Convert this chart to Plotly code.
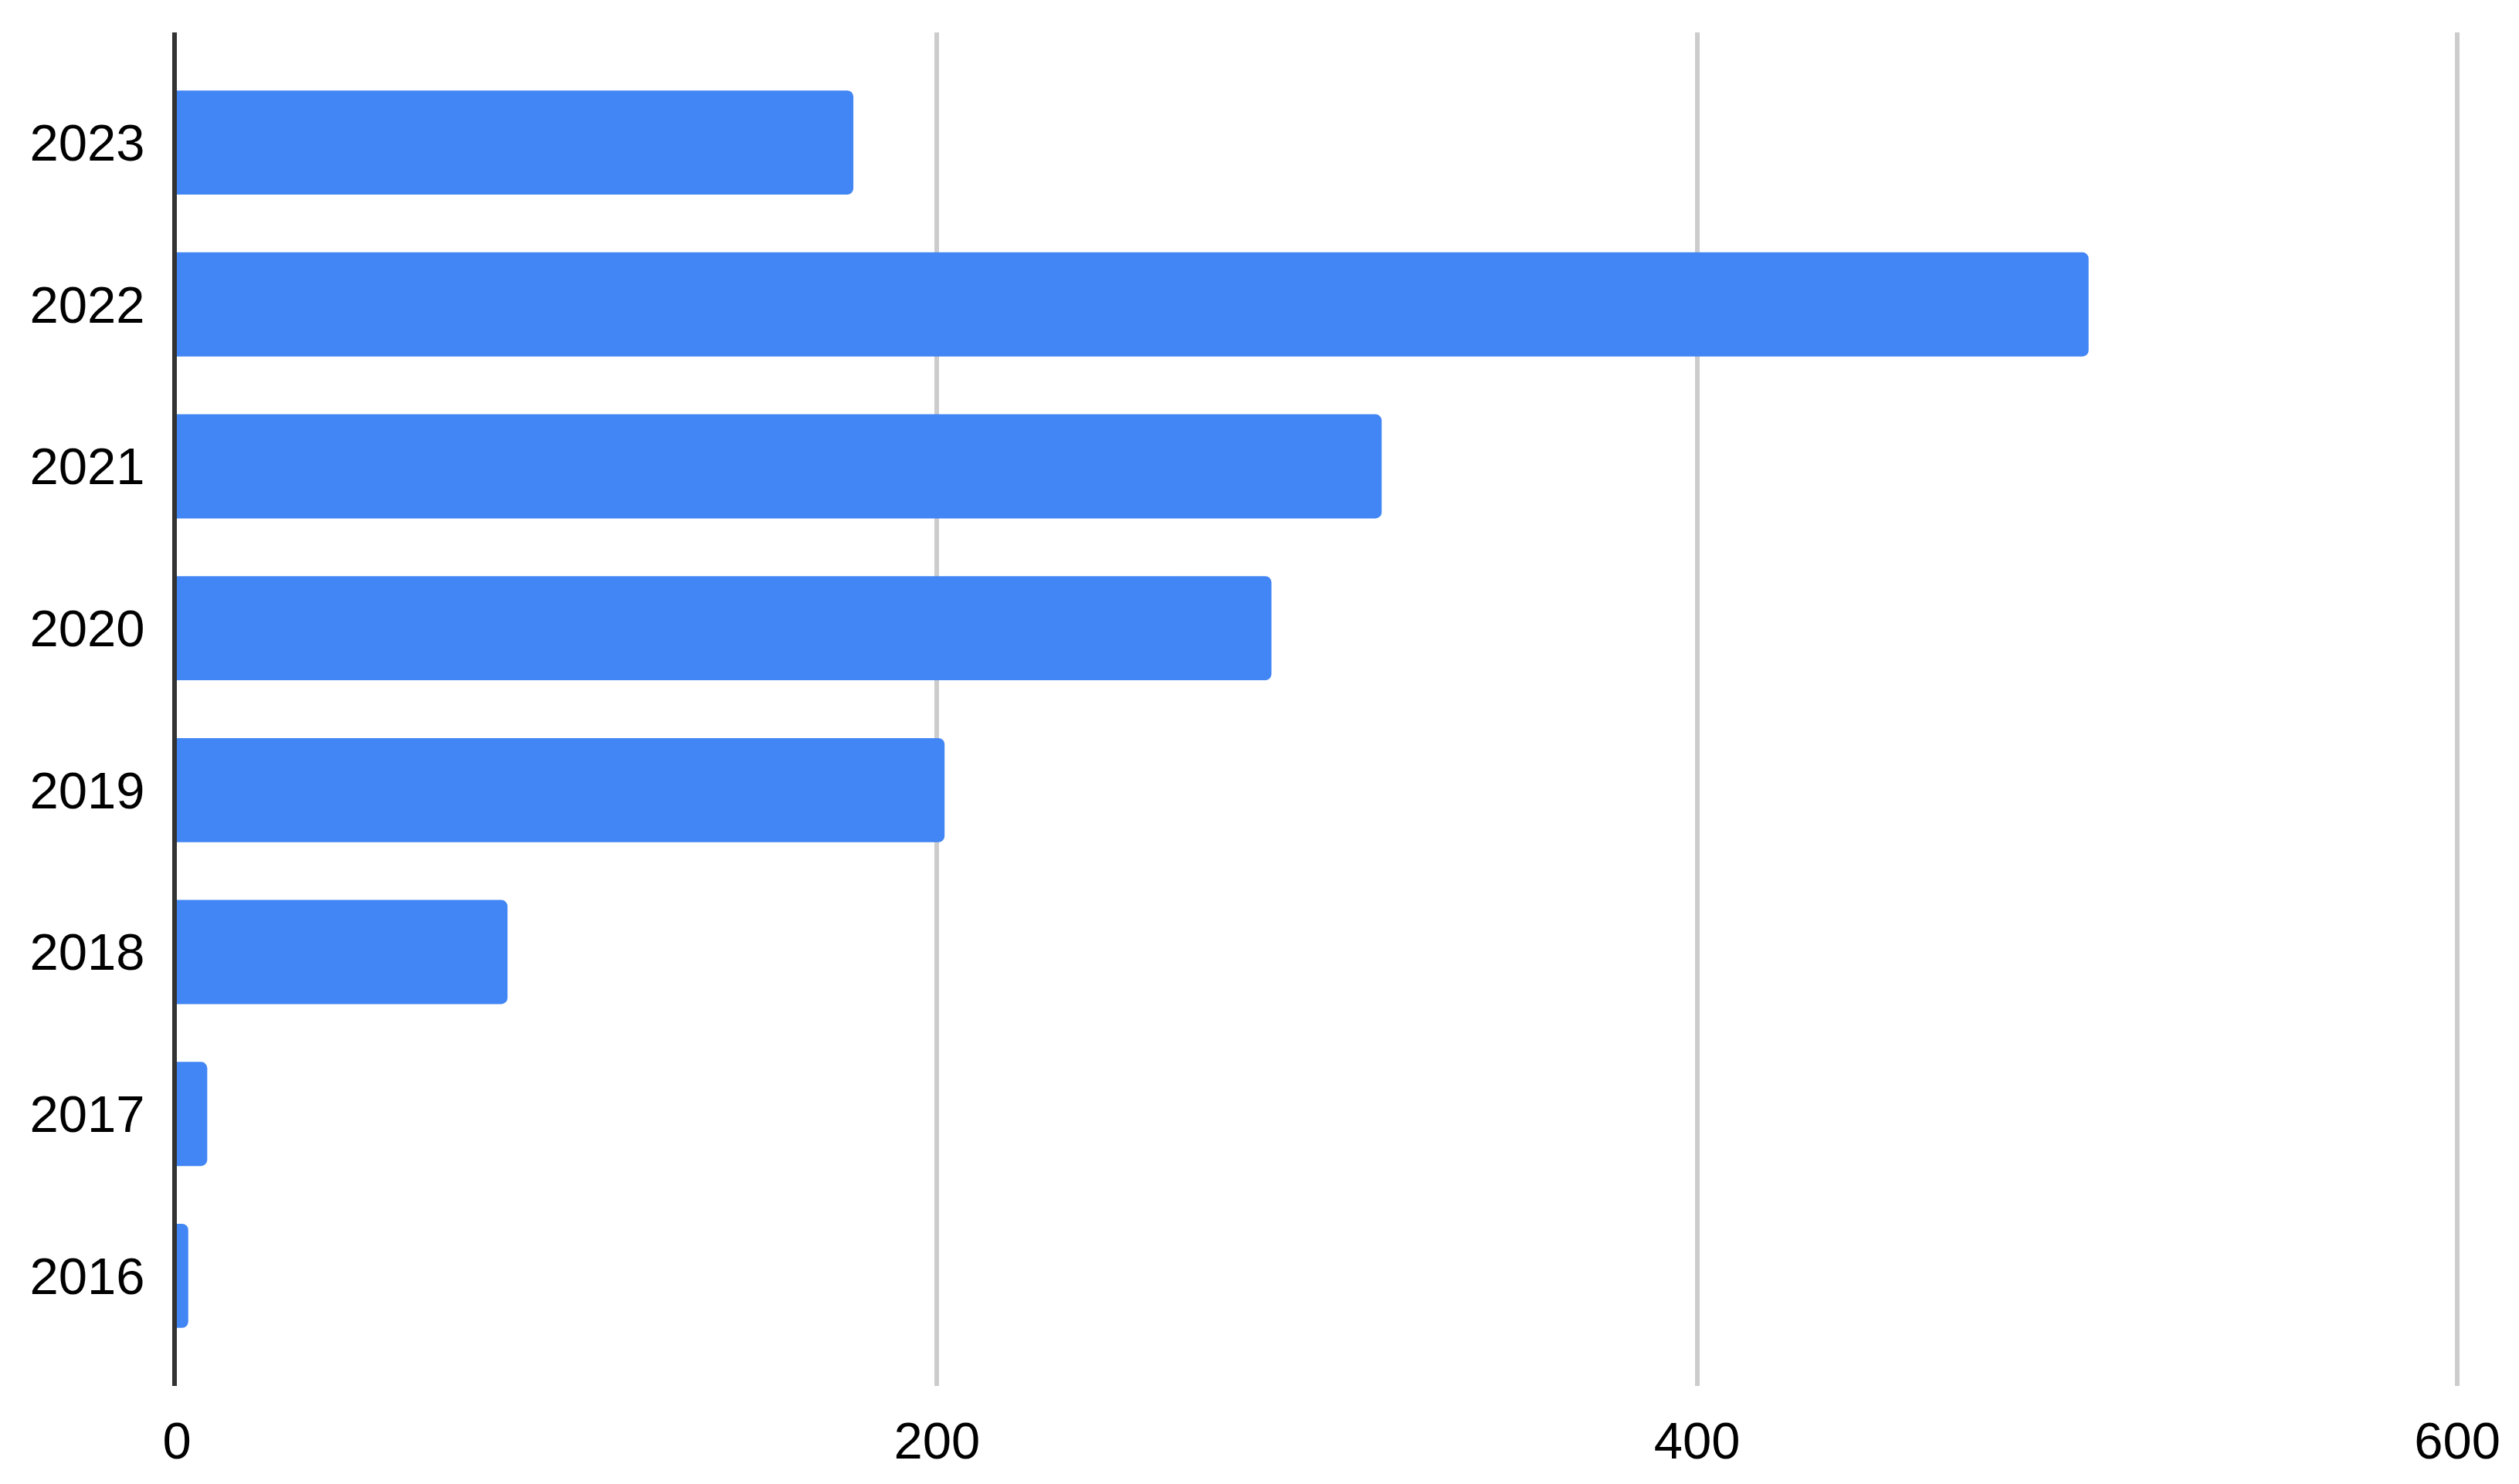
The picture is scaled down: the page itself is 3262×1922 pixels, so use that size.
import plotly.graph_objects as go

years = ["2016", "2017", "2018", "2019", "2020", "2021", "2022", "2023"]
counts = [3, 8, 87, 202, 288, 317, 503, 178]
x_ticks = [0, 200, 400, 600]

BAR_COLOR = "#4285F4"
FONT = "Arial"


def create_hbar_chart(categories, values):
    fig = go.Figure(go.Bar(
        x=values,
        y=categories,
        orientation="h",
        marker=dict(color=BAR_COLOR, line=dict(width=0), cornerradius=8),
        hoverinfo="x+y",
    ))
    # page body keeps its default 8px margin, so the figure is 16px smaller
    fig.update_layout(
        width=3246,
        height=1906,
        margin=dict(l=221, r=67, t=34, b=119),
        paper_bgcolor="white",
        plot_bgcolor="white",
        bargap=0.357,
        showlegend=False,
        font=dict(family=FONT, size=67, color="#000000"),
    )
    fig.update_xaxes(
        range=[0, 601],
        tickvals=x_ticks,
        ticktext=[str(t) for t in x_ticks],
        showgrid=True,
        gridcolor="#cccccc",
        gridwidth=6,
        zeroline=False,
        showline=False,
        ticks="",
        ticklabelstandoff=26,
        tickfont=dict(family=FONT, size=67, color="#000000"),
    )
    fig.update_yaxes(
        type="category",
        categoryorder="array",
        categoryarray=categories,
        range=[-0.68, 7.68],
        showgrid=False,
        zeroline=False,
        showline=True,
        linecolor="#333333",
        linewidth=6,
        layer="above traces",
        ticks="",
        ticklabelstandoff=22,
        tickfont=dict(family=FONT, size=67, color="#000000"),
    )
    return fig


fig = create_hbar_chart(years, counts)
fig.write_html("out.html")
